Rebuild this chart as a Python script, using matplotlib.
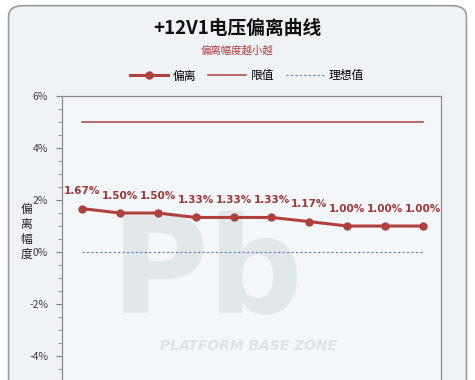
import matplotlib.pyplot as plt
import matplotlib.ticker as mticker
from matplotlib.patches import FancyBboxPatch

plt.rcParams['font.family'] = ['Noto Sans CJK SC', 'DejaVu Sans']

# ── Data ──────────────────────────────────────────────────────────────────────
points = list(range(10))
deviation = [1.67, 1.50, 1.50, 1.33, 1.33, 1.33, 1.17, 1.00, 1.00, 1.00]
limit = [5.0] * 10
ideal = [0.0] * 10
y_ticks = [-4, -2, 0, 2, 4, 6]

LINE_RED = "#B0403E"
LABEL_RED = "#9B3634"

fig = plt.figure(figsize=(4.75, 3.8), dpi=100)
fig.patch.set_facecolor("white")
frame = FancyBboxPatch(
    (0.018, -0.05), 0.964, 1.035, boxstyle="round,pad=0,rounding_size=0.03",
    transform=fig.transFigure, facecolor="#EFF3F6", edgecolor="#9A9A9A", linewidth=1.2,
    zorder=-10,
)
fig.patches.append(frame)

ax = fig.add_axes([0.1305, -0.0737, 0.7975, 0.821])
ax.set_facecolor("#F4F7F9")

# faint watermark
ax.text(3.3, -2.3, "Pb", fontsize=96, fontweight="bold", color="#E2E7EA",
        ha="center", va="baseline", family="DejaVu Sans", zorder=0)
ax.text(4.4, -3.6, "PLATFORM BASE ZONE", fontsize=10, fontweight="bold",
        fontstyle="italic", color="#DEE3E7", ha="center", va="center",
        family="DejaVu Sans", zorder=0)

ax.plot(points, deviation, color=LINE_RED, linewidth=2.2, marker="o",
        markersize=5, label="偏离", zorder=3)
ax.plot(points, limit, color=LINE_RED, linewidth=1.1, label="限值", zorder=2)
ax.plot(points, ideal, color="#5A7FA8", linewidth=0.8, linestyle=(0, (2, 2)),
        label="理想值", zorder=2)

for x, v in zip(points, deviation):
    ax.annotate(f"{v:.2f}%", xy=(x, v), xytext=(0, 9), textcoords="offset points",
                ha="center", va="bottom", fontsize=7.5, fontweight="bold",
                color=LABEL_RED, family="DejaVu Sans", zorder=4)

ax.set_xlim(-0.53, 9.47)
ax.set_ylim(-6, 6)
ax.set_yticks(y_ticks)
ax.yaxis.set_major_formatter(mticker.FuncFormatter(lambda v, p: f"{v:.0f}%"))
ax.yaxis.set_minor_locator(mticker.MultipleLocator(0.5))
ax.set_xticks([])
ax.tick_params(axis="y", which="major", length=4, color="#808080",
               labelsize=7.5, labelcolor="#404040", pad=6)
ax.tick_params(axis="y", which="minor", length=3, color="#808080")
for s in ax.spines.values():
    s.set_color("#8C8C8C")
    s.set_linewidth(0.9)

fig.text(0.055, 0.39, "偏\n离\n幅\n度", fontsize=8.5, color="#222222",
         ha="center", va="center", linespacing=1.2)

fig.text(0.5, 0.925, "+12V1电压偏离曲线", fontsize=13.5, fontweight="bold",
         ha="center", va="center", color="#111111")
fig.text(0.5, 0.868, "偏离幅度越小越", fontsize=7.5, ha="center", va="center",
         color="#B23A3A")

fig.legend(loc="center", bbox_to_anchor=(0.52, 0.8), ncol=3, frameon=False,
           fontsize=8.5, handlelength=3.2, columnspacing=1.0, handletextpad=0.4)

fig.savefig("out.png", dpi=100)
